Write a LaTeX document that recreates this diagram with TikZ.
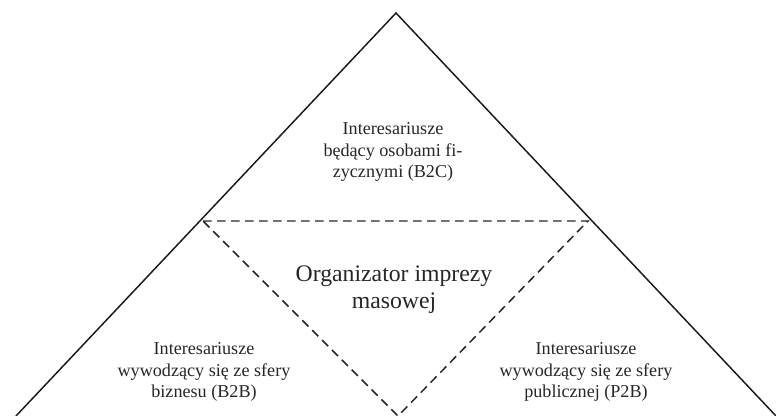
\documentclass[tikz,border=0pt]{standalone}
\usepackage{fontspec}
\setmainfont{Liberation Serif}
\tikzset{
  side/.style={draw=black!90, line width=1.1pt, line join=miter},
  dashedline/.style={draw=black!85, line width=1.1pt, dash pattern=on 6.5pt off 4pt},
  smalltext/.style={align=center, text=black!85, font=\fontsize{13.6}{16}\selectfont, inner sep=0pt},
  bigtext/.style={align=center, text=black!85, font=\fontsize{17.8}{20.5}\selectfont, inner sep=0pt}
}
\begin{document}
\begin{tikzpicture}[x=0.75pt, y=-0.75pt]
\useasboundingbox (0,0) rectangle (776,416);
\coordinate (apex) at (396,13);
\coordinate (bl) at (16,416);
\coordinate (br) at (776,416);
\coordinate (dl) at (203,221);
\coordinate (dr) at (588,221);
\coordinate (db) at (398,416);
\draw[side] (bl) -- (apex) -- (br);
\draw[dashedline] (dl) -- (dr) -- (db) -- cycle;
\node[smalltext] (top) at (393,152) {Interesariusze\\będący osobami fi-\\zycznymi (B2C)};
\node[bigtext] (org) at (394,290) {Organizator imprezy\\masowej};
\node[smalltext] (left) at (204,372) {Interesariusze\\wywodzący się ze sfery\\biznesu (B2B)};
\node[smalltext] (right) at (586,372) {Interesariusze\\wywodzący się ze sfery\\publicznej (P2B)};
\end{tikzpicture}
\end{document}
